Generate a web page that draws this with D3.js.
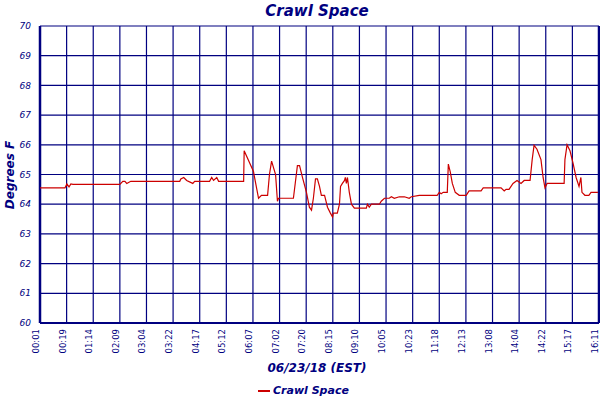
<!DOCTYPE html>
<html><head><meta charset="utf-8">
<script src="https://cdn.jsdelivr.net/npm/d3@7"></script>
<style>body{margin:0;background:#fff}</style>
</head><body><div id="chart"></div>
<script>
// etiquetas del eje x (una por linea de la rejilla)
const timeLabels = ["00:01","00:19","01:14","02:09","03:04","03:22","04:17","05:12","06:07","07:02","07:20","08:15","09:10","10:05","10:23","11:18","12:13","13:08","14:04","14:22","15:17","16:11"];
const yTicks = [60,61,62,63,64,65,66,67,68,69,70];
// posicion (en intervalos de la rejilla) y temperatura
const pos = [0,0.94,1.01,1.09,1.16,1.24,3.0,3.11,3.19,3.26,3.41,3.49,5.25,5.29,5.4,5.51,5.74,5.81,6.37,6.45,6.52,6.64,6.71,7.65,7.67,8.02,8.06,8.21,8.32,8.55,8.62,8.7,8.85,8.92,8.96,9.52,9.67,9.75,9.86,10.01,10.12,10.2,10.27,10.35,10.42,10.5,10.57,10.69,10.8,10.91,10.99,11.02,11.17,11.25,11.29,11.36,11.44,11.47,11.51,11.55,11.62,11.7,11.81,12.26,12.3,12.37,12.45,12.75,12.82,12.94,13.12,13.2,13.31,13.5,13.69,13.87,13.95,14.25,14.92,15.0,15.07,15.15,15.3,15.34,15.41,15.49,15.6,15.75,16.01,16.12,16.57,16.65,17.32,17.44,17.51,17.62,17.77,17.92,18.07,18.19,18.41,18.49,18.56,18.67,18.82,18.9,18.97,19.05,19.69,19.72,19.8,19.91,20.02,20.14,20.25,20.32,20.36,20.47,20.62,20.7,20.96];
const temps = [64.55,64.55,64.68,64.58,64.68,64.67,64.67,64.77,64.77,64.7,64.77,64.77,64.77,64.85,64.9,64.8,64.7,64.77,64.77,64.9,64.8,64.9,64.77,64.77,65.8,65.1,64.9,64.2,64.3,64.3,65.0,65.45,65.0,64.1,64.2,64.2,65.3,65.3,64.9,64.4,63.9,63.8,64.2,64.85,64.85,64.6,64.3,64.3,63.9,63.7,63.57,63.7,63.7,64.0,64.6,64.7,64.8,64.9,64.7,64.9,64.4,64.0,63.87,63.87,64.0,63.9,64.0,64.0,64.1,64.2,64.2,64.25,64.2,64.25,64.25,64.2,64.25,64.3,64.3,64.4,64.35,64.4,64.4,65.35,65.1,64.7,64.4,64.3,64.3,64.45,64.45,64.55,64.55,64.45,64.5,64.5,64.7,64.8,64.7,64.8,64.8,65.5,65.98,65.85,65.5,64.9,64.55,64.7,64.7,65.5,66.0,65.8,65.4,64.9,64.6,64.9,64.4,64.3,64.3,64.4,64.4];

const navy = "#000080";
const W = 600, H = 400;
const m = { top: 26, right: 1, bottom: 77, left: 40 };
const svg = d3.select("#chart").append("svg").attr("width", W).attr("height", H);
const g = svg.append("g").attr("transform", `translate(${m.left},${m.top})`);
const iw = W - m.left - m.right, ih = H - m.top - m.bottom;

const x = d3.scaleLinear().domain([0, timeLabels.length - 1]).range([0, iw]);
const y = d3.scaleLinear().domain([60, 70]).range([ih, 0]);

// rejilla
g.selectAll(".hg").data(yTicks).enter().append("line")
  .attr("x1", 0).attr("x2", iw).attr("y1", d => y(d)).attr("y2", d => y(d))
  .attr("stroke", navy).attr("stroke-width", 1.2);
g.selectAll(".vg").data(timeLabels).enter().append("line")
  .attr("x1", (d, i) => x(i)).attr("x2", (d, i) => x(i)).attr("y1", 0).attr("y2", ih)
  .attr("stroke", navy).attr("stroke-width", 1.2);
g.append("line").attr("x1", 0).attr("x2", 0).attr("y1", 0).attr("y2", ih).attr("stroke", navy).attr("stroke-width", 2.5);
g.append("line").attr("x1", iw).attr("x2", iw).attr("y1", 0).attr("y2", ih).attr("stroke", navy).attr("stroke-width", 2.5);
g.append("line").attr("x1", 0).attr("x2", iw).attr("y1", ih).attr("y2", ih).attr("stroke", navy).attr("stroke-width", 2);

// etiquetas
g.selectAll(".yl").data(yTicks).enter().append("text")
  .attr("x", -9).attr("y", d => y(d)).attr("dy", "0.35em").attr("text-anchor", "end")
  .attr("font-family", "DejaVu Sans").attr("font-size", 9).attr("font-style", "italic")
  .attr("fill", navy).text(d => d);
g.selectAll(".xl").data(timeLabels).enter().append("text")
  .attr("transform", (d, i) => `translate(${x(i) - 1},${ih + 6}) rotate(-90)`)
  .attr("text-anchor", "end").attr("font-family", "DejaVu Sans").attr("font-size", 8.5)
  .attr("fill", navy).text(d => d);

// linea de datos
const pts = pos.map((p, i) => [p, temps[i]]);
g.append("path").datum(pts)
  .attr("d", d3.line().x(d => x(d[0])).y(d => y(d[1])))
  .attr("fill", "none").attr("stroke", "#cc0000").attr("stroke-width", 1.2);

// titulos
const tf = t => t.attr("font-family", "DejaVu Sans").attr("font-style", "italic").attr("font-weight", "bold").attr("fill", navy);
tf(svg.append("text").attr("x", 317).attr("y", 16).attr("text-anchor", "middle").attr("font-size", 15).text("Crawl Space"));
tf(svg.append("text").attr("x", 317).attr("y", 372).attr("text-anchor", "middle").attr("font-size", 12).text("06/23/18 (EST)"));
tf(svg.append("text").attr("transform", "translate(14,175) rotate(-90)").attr("text-anchor", "middle").attr("font-size", 12).text("Degrees F"));
svg.append("line").attr("x1", 258).attr("x2", 270).attr("y1", 391).attr("y2", 391).attr("stroke", "#cc0000").attr("stroke-width", 2);
tf(svg.append("text").attr("x", 273).attr("y", 394).attr("font-size", 11).text("Crawl Space"));
</script></body></html>
